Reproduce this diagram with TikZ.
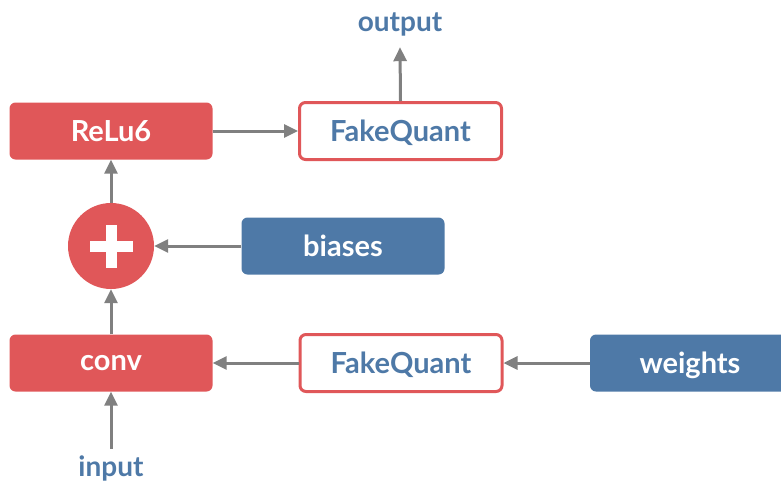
\documentclass[tikz,border=0pt]{standalone}
\usepackage{fontspec}
\setmainfont{Lato}
\usetikzlibrary{arrows.meta}
\definecolor{qred}{HTML}{E05759}
\definecolor{qblue}{HTML}{4E79A7}
\definecolor{qgray}{HTML}{808080}
\begin{document}
\begin{tikzpicture}[x=1pt,y=-1pt,
  box/.style={rounded corners=6pt, inner sep=0pt, minimum width=203pt, minimum height=57pt,
    font=\fontsize{29}{32}\selectfont\bfseries, text=white, text depth=0pt},
  redbox/.style={box, fill=qred},
  bluebox/.style={box, fill=qblue},
  quantbox/.style={box, draw=qred, line width=3pt, fill=white, text=qblue,
    minimum width=202pt, minimum height=57pt},
  label/.style={font=\fontsize{28}{32}\selectfont\bfseries, text=qblue, inner sep=0pt},
  arr/.style={draw=qgray, line width=3pt, -{Triangle[length=14pt,width=13pt]}},
  plusnode/.style={circle, fill=qred, minimum size=86pt, inner sep=0pt,
    path picture={
      \fill[white] (path picture bounding box.center) +(-21.5,-5.5) rectangle +(21.5,5.5);
      \fill[white] (path picture bounding box.center) +(-5.5,-21.5) rectangle +(5.5,21.5);
    }}
]
\useasboundingbox (0,0) rectangle (781,483);

% top row
\node[redbox]   (relu) at (111,131) {ReLu6};
\node[quantbox] (fqout) at (400.5,131) {FakeQuant};
\node[label, minimum height=46pt] (out) at (400,24) {output};

% middle row
\node[plusnode] (plus) at (111,246) {};
\node[bluebox]  (bias) at (343,246) {biases};

% bottom row
\node[redbox]   (conv) at (111,363) {conv};
\node[quantbox] (fqw) at (401,363) {FakeQuant};
\node[bluebox, minimum width=200pt] (w) at (690,363) {weights};
\node[label, minimum height=38pt] (in) at (111,468) {input};

% data flow
\draw[arr] (in.north) -- (conv.south);
\draw[arr] (conv.north) -- (plus.south);
\draw[arr] (plus.north) -- (relu.south);
\draw[arr] (relu.east) -- (fqout.west);
\draw[arr] (fqout.north) -- (out.south);
\draw[arr] (bias.west) -- (plus.east);
\draw[arr] (w.west) -- (fqw.east);
\draw[arr] (fqw.west) -- (conv.east);
\end{tikzpicture}
\end{document}
